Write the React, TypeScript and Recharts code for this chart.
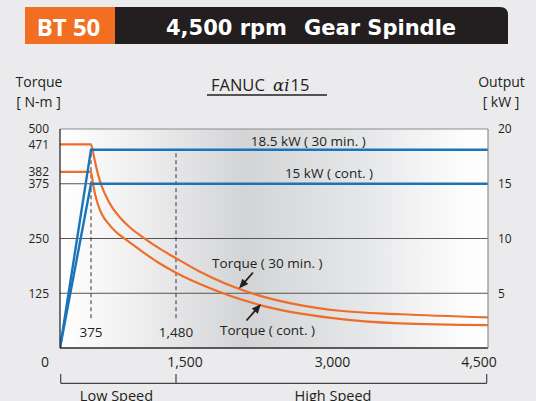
import React from "react";
import { ComposedChart, Line, XAxis, YAxis, ReferenceLine, ReferenceArea } from "recharts";

// ---- data ----
const rpm30 = [0, 375, 414, 453, 492, 531, 583, 661, 752, 882, 1064, 1294, 1480, 1713, 2228, 2684, 3072, 3651, 4500];
const torque30 = [465, 465, 436, 406, 381, 362, 342, 318, 298, 275, 251, 224, 205, 174, 124, 98, 85, 77, 70];
const rpmCont = [0, 375, 401, 427, 466, 518, 596, 700, 817, 1012, 1233, 1480, 1713, 2296, 3005, 3651, 4500];
const torqueCont = [402, 402, 375, 352, 327, 305, 285, 265, 249, 224, 197, 172, 146, 98, 68, 56, 52];
const rpmPower = [0, 375, 4500];
const power30 = [0, 18.1, 18.1];
const powerCont = [0, 15, 15];
const speedMarks = [375, 1480];
const speedMarkLabels = ["375", "1,480"];
const dashedTorqueRange = [68, 452];
const xTickRpm = [0, 1500, 3000, 4500];
const xTickLabels = ["0", "1,500", "3,000", "4,500"];
const torqueTickValues = [125, 250, 375, torqueCont[0], torque30[0], 500];
const torqueTickLabels = ["125", "250", "375", "382", "471", "500"];
const torqueGrid = [125, 250, 375];
const powerTicks = [5, 10, 15, 20];

// ---- layout ----
const W = 536;
const H = 401;
const PL = 60;
const PR = 488;
const PT = 129;
const PB = 348;
const PW = PR - PL;
// the speed axis of the original is drawn piecewise (low / high gear ranges)
const rpmAnchors = [0, 375, 1480, 3000, 4500];
const uAnchors = [0, 31, 116, 272.5, PW];
function toU(rpm: number): number {
  for (let i = 1; i < rpmAnchors.length; i++) {
    if (rpm <= rpmAnchors[i]) {
      const r0 = rpmAnchors[i - 1];
      const r1 = rpmAnchors[i];
      return uAnchors[i - 1] + ((rpm - r0) / (r1 - r0)) * (uAnchors[i] - uAnchors[i - 1]);
    }
  }
  return uAnchors[uAnchors.length - 1];
}
const px = (rpm: number) => PL + toU(rpm);

const data30 = rpm30.map((r, i) => ({ u: toU(r), v: torque30[i] }));
const dataCont = rpmCont.map((r, i) => ({ u: toU(r), v: torqueCont[i] }));
const dataP30 = rpmPower.map((r, i) => ({ u: toU(r), v: power30[i] }));
const dataPCont = rpmPower.map((r, i) => ({ u: toU(r), v: powerCont[i] }));
const xTicksU = xTickRpm.map(toU);

const ORANGE = "#ec6e2b";
const BLUE = "#1b74ba";
const INK = "#231f20";
const FONT = "'Open Sans', sans-serif";

const XTick = (props: any) => {
  const { x, y, payload } = props;
  const idx = xTicksU.findIndex((v) => Math.abs(v - payload.value) < 0.01);
  const dxs = [-15, 7, 0, -9];
  return (
    <text x={x + (dxs[idx] ?? 0)} y={y + 19} textAnchor="middle" fontSize={14} fill={INK} fontFamily={FONT}>
      {xTickLabels[idx]}
    </text>
  );
};

const Arrow = ({ x1, y1, x2, y2 }: { x1: number; y1: number; x2: number; y2: number }) => {
  const dx = x2 - x1;
  const dy = y2 - y1;
  const len = Math.sqrt(dx * dx + dy * dy);
  const ux = dx / len;
  const uy = dy / len;
  const hl = 9.5;
  const hw = 4;
  const bx = x2 - ux * hl;
  const by = y2 - uy * hl;
  return (
    <g>
      <line x1={x1} y1={y1} x2={bx + ux} y2={by + uy} stroke={INK} strokeWidth={1.8} />
      <polygon
        points={`${x2},${y2} ${bx - uy * hw},${by + ux * hw} ${bx + uy * hw},${by - ux * hw}`}
        fill={INK}
      />
    </g>
  );
};

export default function App() {
  return (
    <div
      style={{
        position: "absolute",
        left: 0,
        top: 0,
        width: W,
        height: H,
        background: "#ebebed",
        overflow: "hidden",
        fontFamily: FONT,
      }}
    >
      <svg width={0} height={0} style={{ position: "absolute" }}>
        <defs>
          <linearGradient id="plotBg" x1="0" y1="0" x2="1" y2="0">
            <stop offset="0%" stopColor="#ffffff" />
            <stop offset="20%" stopColor="#ededee" />
            <stop offset="43%" stopColor="#d3d4d6" />
            <stop offset="70%" stopColor="#e5e6e8" />
            <stop offset="95%" stopColor="#fdfdfd" />
            <stop offset="100%" stopColor="#ffffff" />
          </linearGradient>
        </defs>
      </svg>
      <ComposedChart
        width={W}
        height={H}
        margin={{ top: PT, right: 0, bottom: H - PB - 30, left: 0 }}
        style={{ fontFamily: FONT }}
      >
        <XAxis
          type="number"
          dataKey="u"
          domain={[0, PW]}
          ticks={xTicksU}
          tick={<XTick />}
          tickLine={false}
          tickSize={0}
          tickMargin={0}
          axisLine={{ stroke: "#2b2b2b", strokeWidth: 1.3 }}
          height={30}
          allowDataOverflow
          interval={0}
        />
        <YAxis
          yAxisId="t"
          type="number"
          domain={[0, 500]}
          ticks={torqueTickValues}
          tickFormatter={(v: number) => torqueTickLabels[torqueTickValues.indexOf(v)] ?? String(v)}
          tick={{ fontSize: 12, fill: INK }}
          tickLine={false}
          tickSize={0}
          tickMargin={11}
          axisLine={{ stroke: "#2b2b2b", strokeWidth: 1.3 }}
          width={PL}
          interval={0}
          allowDataOverflow
        />
        <YAxis
          yAxisId="p"
          orientation="right"
          type="number"
          domain={[0, 20]}
          ticks={powerTicks}
          tick={{ fontSize: 12, fill: INK }}
          tickLine={false}
          tickSize={0}
          tickMargin={10}
          axisLine={{ stroke: "#8c8c8c", strokeWidth: 1.2 }}
          width={W - PR}
          interval={0}
          allowDataOverflow
        />
        <ReferenceArea
          yAxisId="t"
          x1={0}
          x2={PW}
          y1={0}
          y2={500}
          fill="url(#plotBg)"
          fillOpacity={1}
          stroke="none"
        />
        {torqueGrid.map((g) => (
          <ReferenceLine key={g} yAxisId="t" y={g} stroke="#555" strokeWidth={1.2} />
        ))}
        <ReferenceLine yAxisId="t" y={500} stroke="#8c8c8c" strokeWidth={1.2} />
        {speedMarks.map((m) => (
          <ReferenceLine
            key={m}
            yAxisId="t"
            segment={[
              { x: toU(m), y: dashedTorqueRange[0] },
              { x: toU(m), y: dashedTorqueRange[1] },
            ]}
            stroke="#333"
            strokeWidth={1}
            strokeDasharray="4 3"
          />
        ))}
        <Line
          data={data30}
          dataKey="v"
          yAxisId="t"
          type="monotone"
          stroke={ORANGE}
          strokeWidth={2.2}
          dot={false}
          isAnimationActive={false}
        />
        <Line
          data={dataCont}
          dataKey="v"
          yAxisId="t"
          type="monotone"
          stroke={ORANGE}
          strokeWidth={2.2}
          dot={false}
          isAnimationActive={false}
        />
        <Line
          data={dataP30}
          dataKey="v"
          yAxisId="p"
          type="linear"
          stroke={BLUE}
          strokeWidth={2.4}
          dot={false}
          isAnimationActive={false}
        />
        <Line
          data={dataPCont}
          dataKey="v"
          yAxisId="p"
          type="linear"
          stroke={BLUE}
          strokeWidth={2.4}
          dot={false}
          isAnimationActive={false}
        />
      </ComposedChart>
      <svg
        width={W}
        height={H}
        style={{ position: "absolute", left: 0, top: 0, pointerEvents: "none" }}
        fontFamily={FONT}
      >
        {/* header */}
        <rect x={25} y={7} width={90} height={37} fill="#f26f21" />
        <path d="M115 7 H500 Q508 7 508 15 V44 H115 Z" fill={INK} />
        <text x={68.5} y={36} textAnchor="middle" fontSize={24} fontWeight="bold" fill="#fff" fontFamily={FONT}>
          BT 50
        </text>
        <text x={166} y={35} fontSize={21} fontWeight="bold" fill="#fff" fontFamily="'DejaVu Sans', sans-serif">
          4,500 rpm
        </text>
        <text x={304} y={35} fontSize={21} fontWeight="bold" fill="#fff" fontFamily="'DejaVu Sans', sans-serif">
          Gear Spindle
        </text>

        {/* title */}
        <text x={211} y={91} fontSize={16.5} fill={INK}>
          FANUC{" "}
          <tspan fontFamily="'DejaVu Serif', serif" fontStyle="italic" dx={4}>
            αi
          </tspan>
          <tspan dx={1}>15</tspan>
        </text>
        <line x1={207} y1={95} x2={327} y2={95} stroke={INK} strokeWidth={1.3} />

        {/* axis titles */}
        <text x={39} y={87.3} textAnchor="middle" fontSize={14} fill={INK}>
          Torque
        </text>
        <text x={38.5} y={106.7} textAnchor="middle" fontSize={14} fill={INK}>
          [ N-m ]
        </text>
        <text x={501.5} y={87.3} textAnchor="middle" fontSize={14} fill={INK}>
          Output
        </text>
        <text x={501} y={107} textAnchor="middle" fontSize={14} fill={INK}>
          [ kW ]
        </text>

        {/* series labels */}
        <text x={308.3} y={145.7} textAnchor="middle" fontSize={13.5} fill={INK}>
          18.5 kW ( 30 min. )
        </text>
        <text x={329} y={178.3} textAnchor="middle" fontSize={13.5} fill={INK}>
          15 kW ( cont. )
        </text>
        <text x={267.3} y={268.3} textAnchor="middle" fontSize={13.5} fill={INK}>
          Torque ( 30 min. )
        </text>
        <text x={267.5} y={335} textAnchor="middle" fontSize={13.5} fill={INK}>
          Torque ( cont. )
        </text>
        <Arrow x1={253} y1={272.5} x2={239} y2={288.5} />
        <Arrow x1={246.5} y1={320.5} x2={261} y2={304} />

        {/* speed marks */}
        {speedMarks.map((m, i) => (
          <text key={m} x={px(m)} y={336.7} textAnchor="middle" fontSize={13.5} fill={INK}>
            {speedMarkLabels[i]}
          </text>
        ))}

        {/* low / high speed bracket */}
        <g stroke="#444" strokeWidth={1.2} fill="none">
          <line x1={px(0) + 0.7} y1={383.3} x2={px(4500) - 1.3} y2={383.3} />
          <line x1={px(0) + 0.7} y1={374} x2={px(0) + 0.7} y2={383.3} />
          <line x1={px(speedMarks[1])} y1={374} x2={px(speedMarks[1])} y2={383.3} />
          <line x1={px(4500) - 1.3} y1={374} x2={px(4500) - 1.3} y2={383.3} />
        </g>
        <text x={(px(0) + px(speedMarks[1])) / 2 - 1.5} y={400.5} textAnchor="middle" fontSize={14.5} fill={INK}>
          Low Speed
        </text>
        <text x={333} y={400.5} textAnchor="middle" fontSize={14.5} fill={INK}>
          High Speed
        </text>
      </svg>
    </div>
  );
}
